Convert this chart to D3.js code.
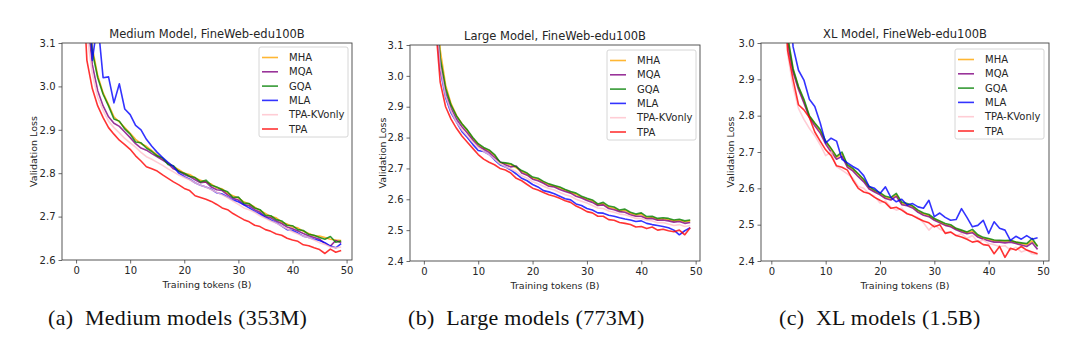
<!DOCTYPE html>
<html><head><meta charset="utf-8">
<script src="https://cdn.jsdelivr.net/npm/d3@7"></script>
<style>
html,body{margin:0;padding:0;background:#fff;}
svg{display:block;}
</style></head>
<body><svg id="chart" width="1080" height="356"></svg>
<script>
const tokens = [1,2,3,4,5,6,7,8,9,10,11,12,13,14,15,16,17,18,19,20,21,22,23,24,25,26,27,28,29,30,31,32,33,34,35,36,37,38,39,40,41,42,43,44,45,46,47,48,49];
const seriesNames = ["MHA","MQA","GQA","MLA","TPA-KVonly","TPA"];
const seriesColors = ["#FFA500","#800080","#008000","#0000FF","#FFC0CB","#FF0000"];
const xTicks = [0,10,20,30,40,50];

// Medium model
const medMHA = [3.62,3.22,3.09,3.025,2.985,2.958,2.93,2.918,2.905,2.892,2.878,2.868,2.862,2.852,2.842,2.832,2.824,2.815,2.808,2.80,2.797,2.789,2.784,2.779,2.775,2.766,2.764,2.753,2.748,2.743,2.734,2.729,2.722,2.714,2.707,2.70,2.697,2.687,2.683,2.676,2.674,2.666,2.661,2.656,2.655,2.652,2.648,2.646,2.645];
const medMQA = [3.55,3.17,3.05,2.99,2.955,2.93,2.915,2.908,2.895,2.882,2.868,2.858,2.853,2.845,2.838,2.83,2.822,2.81,2.805,2.797,2.792,2.785,2.778,2.78,2.768,2.762,2.76,2.75,2.742,2.738,2.728,2.725,2.716,2.71,2.70,2.697,2.69,2.684,2.676,2.672,2.667,2.661,2.656,2.652,2.648,2.638,2.632,2.645,2.64];
const medGQA = [3.60,3.20,3.08,3.02,2.982,2.955,2.925,2.92,2.902,2.89,2.872,2.87,2.858,2.85,2.84,2.835,2.82,2.817,2.804,2.80,2.793,2.79,2.78,2.784,2.772,2.768,2.762,2.757,2.744,2.745,2.731,2.73,2.72,2.716,2.703,2.702,2.693,2.69,2.68,2.679,2.67,2.668,2.659,2.657,2.652,2.648,2.654,2.641,2.644];
const medMLA = [3.8,3.35,3.06,3.15,3.02,3.022,2.962,3.006,2.948,2.935,2.91,2.90,2.878,2.862,2.848,2.836,2.825,2.815,2.80,2.792,2.786,2.778,2.772,2.768,2.763,2.755,2.752,2.745,2.738,2.734,2.727,2.72,2.712,2.706,2.698,2.692,2.686,2.678,2.67,2.668,2.662,2.655,2.652,2.648,2.645,2.64,2.632,2.628,2.638];
const medTPAKV = [3.45,3.12,3.03,2.975,2.945,2.92,2.905,2.893,2.88,2.87,2.86,2.848,2.838,2.832,2.825,2.818,2.81,2.803,2.796,2.79,2.785,2.778,2.772,2.768,2.762,2.756,2.75,2.744,2.736,2.728,2.72,2.716,2.71,2.702,2.696,2.69,2.685,2.678,2.672,2.665,2.66,2.655,2.652,2.646,2.64,2.636,2.63,2.628,2.63];
const medTPA = [3.30,3.06,2.995,2.955,2.928,2.905,2.89,2.876,2.866,2.855,2.84,2.828,2.815,2.81,2.805,2.796,2.788,2.78,2.773,2.765,2.76,2.748,2.744,2.74,2.735,2.728,2.72,2.716,2.707,2.70,2.693,2.688,2.68,2.677,2.67,2.666,2.66,2.657,2.65,2.646,2.643,2.635,2.633,2.628,2.624,2.615,2.625,2.618,2.622];

// Large model
const lgMHA = [3.95,3.35,3.085,2.97,2.91,2.872,2.845,2.822,2.798,2.778,2.765,2.757,2.742,2.718,2.716,2.712,2.702,2.69,2.682,2.668,2.665,2.655,2.647,2.642,2.637,2.629,2.622,2.616,2.607,2.6,2.595,2.582,2.586,2.574,2.571,2.562,2.564,2.555,2.549,2.552,2.54,2.542,2.535,2.537,2.534,2.53,2.532,2.527,2.53];
const lgMQA = [3.85,3.28,3.04,2.945,2.895,2.86,2.835,2.815,2.792,2.772,2.762,2.752,2.735,2.722,2.712,2.705,2.708,2.685,2.678,2.665,2.66,2.652,2.642,2.64,2.632,2.625,2.62,2.61,2.604,2.596,2.59,2.58,2.582,2.57,2.566,2.56,2.558,2.55,2.545,2.545,2.537,2.538,2.532,2.533,2.53,2.526,2.528,2.522,2.525];
const lgGQA = [3.9,3.3,3.06,2.96,2.905,2.87,2.845,2.825,2.80,2.78,2.768,2.76,2.745,2.72,2.718,2.715,2.705,2.693,2.685,2.672,2.668,2.658,2.65,2.645,2.64,2.632,2.625,2.62,2.61,2.603,2.598,2.585,2.59,2.578,2.575,2.565,2.568,2.558,2.552,2.556,2.544,2.545,2.538,2.54,2.538,2.533,2.535,2.53,2.533];
const lgMLA = [3.8,3.25,3.02,2.93,2.88,2.85,2.82,2.8,2.778,2.758,2.755,2.745,2.728,2.712,2.705,2.695,2.682,2.668,2.66,2.648,2.64,2.628,2.624,2.618,2.61,2.602,2.598,2.585,2.58,2.57,2.565,2.556,2.555,2.548,2.545,2.54,2.536,2.533,2.528,2.53,2.522,2.518,2.515,2.512,2.508,2.5,2.485,2.498,2.508];
const lgTPAKV = [3.82,3.26,3.03,2.935,2.885,2.85,2.825,2.805,2.785,2.768,2.755,2.745,2.73,2.715,2.705,2.698,2.69,2.676,2.668,2.657,2.65,2.642,2.635,2.63,2.622,2.615,2.61,2.6,2.594,2.588,2.58,2.572,2.57,2.562,2.558,2.552,2.55,2.544,2.538,2.538,2.532,2.53,2.524,2.525,2.52,2.515,2.518,2.512,2.515];
const lgTPA = [3.7,3.2,2.98,2.9,2.86,2.83,2.805,2.785,2.765,2.745,2.73,2.72,2.712,2.7,2.695,2.685,2.668,2.66,2.648,2.636,2.63,2.622,2.615,2.61,2.603,2.595,2.59,2.578,2.57,2.56,2.556,2.545,2.545,2.534,2.532,2.525,2.522,2.518,2.51,2.512,2.505,2.51,2.5,2.503,2.498,2.495,2.5,2.485,2.508];

// XL model
const xlMHA = [3.78,3.28,3.01,2.925,2.878,2.84,2.798,2.778,2.758,2.728,2.708,2.685,2.695,2.662,2.652,2.638,2.622,2.602,2.592,2.585,2.575,2.572,2.582,2.558,2.555,2.55,2.537,2.53,2.525,2.515,2.508,2.5,2.497,2.488,2.483,2.478,2.482,2.47,2.462,2.46,2.456,2.455,2.455,2.455,2.452,2.448,2.445,2.455,2.442];
const xlMQA = [3.75,3.26,3.0,2.92,2.872,2.835,2.795,2.772,2.752,2.722,2.7,2.68,2.688,2.658,2.648,2.632,2.618,2.598,2.59,2.582,2.572,2.568,2.578,2.555,2.552,2.546,2.534,2.526,2.522,2.512,2.505,2.498,2.494,2.486,2.48,2.475,2.478,2.466,2.46,2.456,2.452,2.452,2.45,2.452,2.448,2.444,2.44,2.45,2.432];
const xlGQA = [3.8,3.3,3.02,2.93,2.88,2.845,2.80,2.78,2.762,2.73,2.71,2.688,2.70,2.665,2.655,2.64,2.625,2.605,2.595,2.588,2.578,2.575,2.586,2.562,2.558,2.552,2.54,2.532,2.528,2.517,2.51,2.503,2.5,2.49,2.485,2.48,2.487,2.472,2.465,2.462,2.458,2.457,2.456,2.457,2.452,2.45,2.448,2.462,2.44];
const xlMLA = [4.0,3.5,3.2,2.99,2.925,2.898,2.845,2.825,2.78,2.725,2.738,2.73,2.68,2.67,2.66,2.652,2.635,2.605,2.6,2.586,2.604,2.575,2.563,2.57,2.554,2.558,2.549,2.545,2.567,2.522,2.532,2.52,2.512,2.514,2.544,2.52,2.494,2.498,2.512,2.476,2.508,2.49,2.485,2.457,2.468,2.46,2.47,2.46,2.464];
const xlTPAKV = [3.6,3.2,2.97,2.88,2.82,2.79,2.765,2.745,2.72,2.69,2.7,2.66,2.65,2.64,2.628,2.605,2.6,2.585,2.578,2.56,2.565,2.548,2.54,2.545,2.53,2.525,2.52,2.505,2.485,2.5,2.488,2.48,2.478,2.47,2.475,2.462,2.47,2.452,2.458,2.448,2.445,2.44,2.442,2.43,2.438,2.425,2.43,2.42,2.418];
const xlTPA = [3.6,3.25,2.98,2.9,2.83,2.816,2.795,2.755,2.73,2.706,2.69,2.662,2.658,2.65,2.623,2.6,2.59,2.586,2.575,2.567,2.56,2.545,2.548,2.54,2.53,2.525,2.517,2.51,2.505,2.494,2.5,2.476,2.48,2.47,2.466,2.46,2.452,2.455,2.445,2.443,2.42,2.44,2.41,2.435,2.43,2.44,2.43,2.425,2.42];

const titles = ["Medium Model, FineWeb-edu100B","Large Model, FineWeb-edu100B","XL Model, FineWeb-edu100B"];
const captions = ["(a)  Medium models (353M)","(b)  Large models (773M)","(c)  XL models (1.5B)"];
const yTicksMed = [2.6,2.7,2.8,2.9,3.0,3.1];
const yTicksLg = [2.4,2.5,2.6,2.7,2.8,2.9,3.0,3.1];
const yTicksXl = [2.4,2.5,2.6,2.7,2.8,2.9,3.0];

const panels = [
  {box:[62,352,43,260], xdom:[-2.6,51.0], ydom:[2.6,3.1], yticks:yTicksMed, data:[medMHA,medMQA,medGQA,medMLA,medTPAKV,medTPA], legend:[259,47], ylab:33, cap:48},
  {box:[410,700,45,261], xdom:[-2.55,50.8], ydom:[2.4,3.1], yticks:yTicksLg, data:[lgMHA,lgMQA,lgGQA,lgMLA,lgTPAKV,lgTPA], legend:[607,50], ylab:382, cap:408},
  {box:[761,1049,43,261], xdom:[-1.9,51.1], ydom:[2.4,3.0], yticks:yTicksXl, data:[xlMHA,xlMQA,xlGQA,xlMLA,xlTPAKV,xlTPA], legend:[955,49], ylab:730, cap:779}
];

const svg = d3.select("#chart");
const font = "DejaVu Sans, sans-serif";
const txt = "#262626";

panels.forEach((p,i)=>{
  const [x0,x1,y0,y1] = p.box;
  const x = d3.scaleLinear().domain(p.xdom).range([x0,x1]);
  const y = d3.scaleLinear().domain(p.ydom).range([y1,y0]);
  const g = svg.append("g");
  const cid = "clip"+i;
  svg.append("clipPath").attr("id",cid).append("rect").attr("x",x0).attr("y",y0).attr("width",x1-x0).attr("height",y1-y0);

  const xa = g.append("g").attr("transform",`translate(0,${y1})`)
    .call(d3.axisBottom(x).tickValues(xTicks).tickFormat(d3.format("d")).tickSize(3.5).tickPadding(3));
  const ya = g.append("g").attr("transform",`translate(${x0},0)`)
    .call(d3.axisLeft(y).tickValues(p.yticks).tickFormat(d3.format(".1f")).tickSize(3.5).tickPadding(3));
  [xa,ya].forEach(a=>{
    a.select(".domain").remove();
    a.selectAll("line").attr("stroke","#444").attr("stroke-width",0.8);
    a.selectAll("text").attr("font-family",font).attr("font-size",10).attr("fill",txt);
  });

  const line = d3.line().x((d,j)=>x(tokens[j])).y(d=>y(d));
  const lg = g.append("g").attr("clip-path",`url(#${cid})`);
  p.data.forEach((s,k)=>{
    lg.append("path").datum(s).attr("d",line).attr("fill","none")
      .attr("stroke",seriesColors[k]).attr("stroke-width",1.6).attr("stroke-opacity",0.8)
      .attr("stroke-linejoin","round");
  });

  g.append("rect").attr("x",x0).attr("y",y0).attr("width",x1-x0).attr("height",y1-y0)
    .attr("fill","none").attr("stroke","#444").attr("stroke-width",0.9);

  g.append("text").attr("x",(x0+x1)/2).attr("y",y0-5).attr("text-anchor","middle")
    .attr("font-family",font).attr("font-size",11.5).attr("fill",txt).text(titles[i]);
  g.append("text").attr("x",(x0+x1)/2).attr("y",y1+28).attr("text-anchor","middle")
    .attr("font-family",font).attr("font-size",9.5).attr("fill",txt).text("Training tokens (B)");
  g.append("text").attr("transform",`translate(${p.ylab},${(y0+y1)/2}) rotate(-90)`)
    .attr("text-anchor","middle").attr("dominant-baseline","central")
    .attr("font-family",font).attr("font-size",9.5).attr("fill",txt).text("Validation Loss");

  const [lx,ly] = p.legend;
  const leg = g.append("g");
  leg.append("rect").attr("x",lx).attr("y",ly).attr("width",89).attr("height",90).attr("rx",2)
    .attr("fill","#fff").attr("fill-opacity",0.85).attr("stroke","#ccc").attr("stroke-width",0.8);
  seriesNames.forEach((n,k)=>{
    const yy = ly+10.5+k*14.3;
    leg.append("line").attr("x1",lx+3).attr("x2",lx+19).attr("y1",yy).attr("y2",yy)
      .attr("stroke",seriesColors[k]).attr("stroke-width",1.6).attr("stroke-opacity",0.8);
    leg.append("text").attr("x",lx+30).attr("y",yy).attr("dominant-baseline","central")
      .attr("font-family",font).attr("font-size",10).attr("fill",txt).text(n);
  });

  svg.append("text").attr("x",p.cap).attr("y",325).attr("font-family","Liberation Serif, serif")
    .attr("font-size",22).attr("letter-spacing",0.3).attr("fill","#111").style("white-space","pre").text(captions[i]);
});
</script>
</body></html>
